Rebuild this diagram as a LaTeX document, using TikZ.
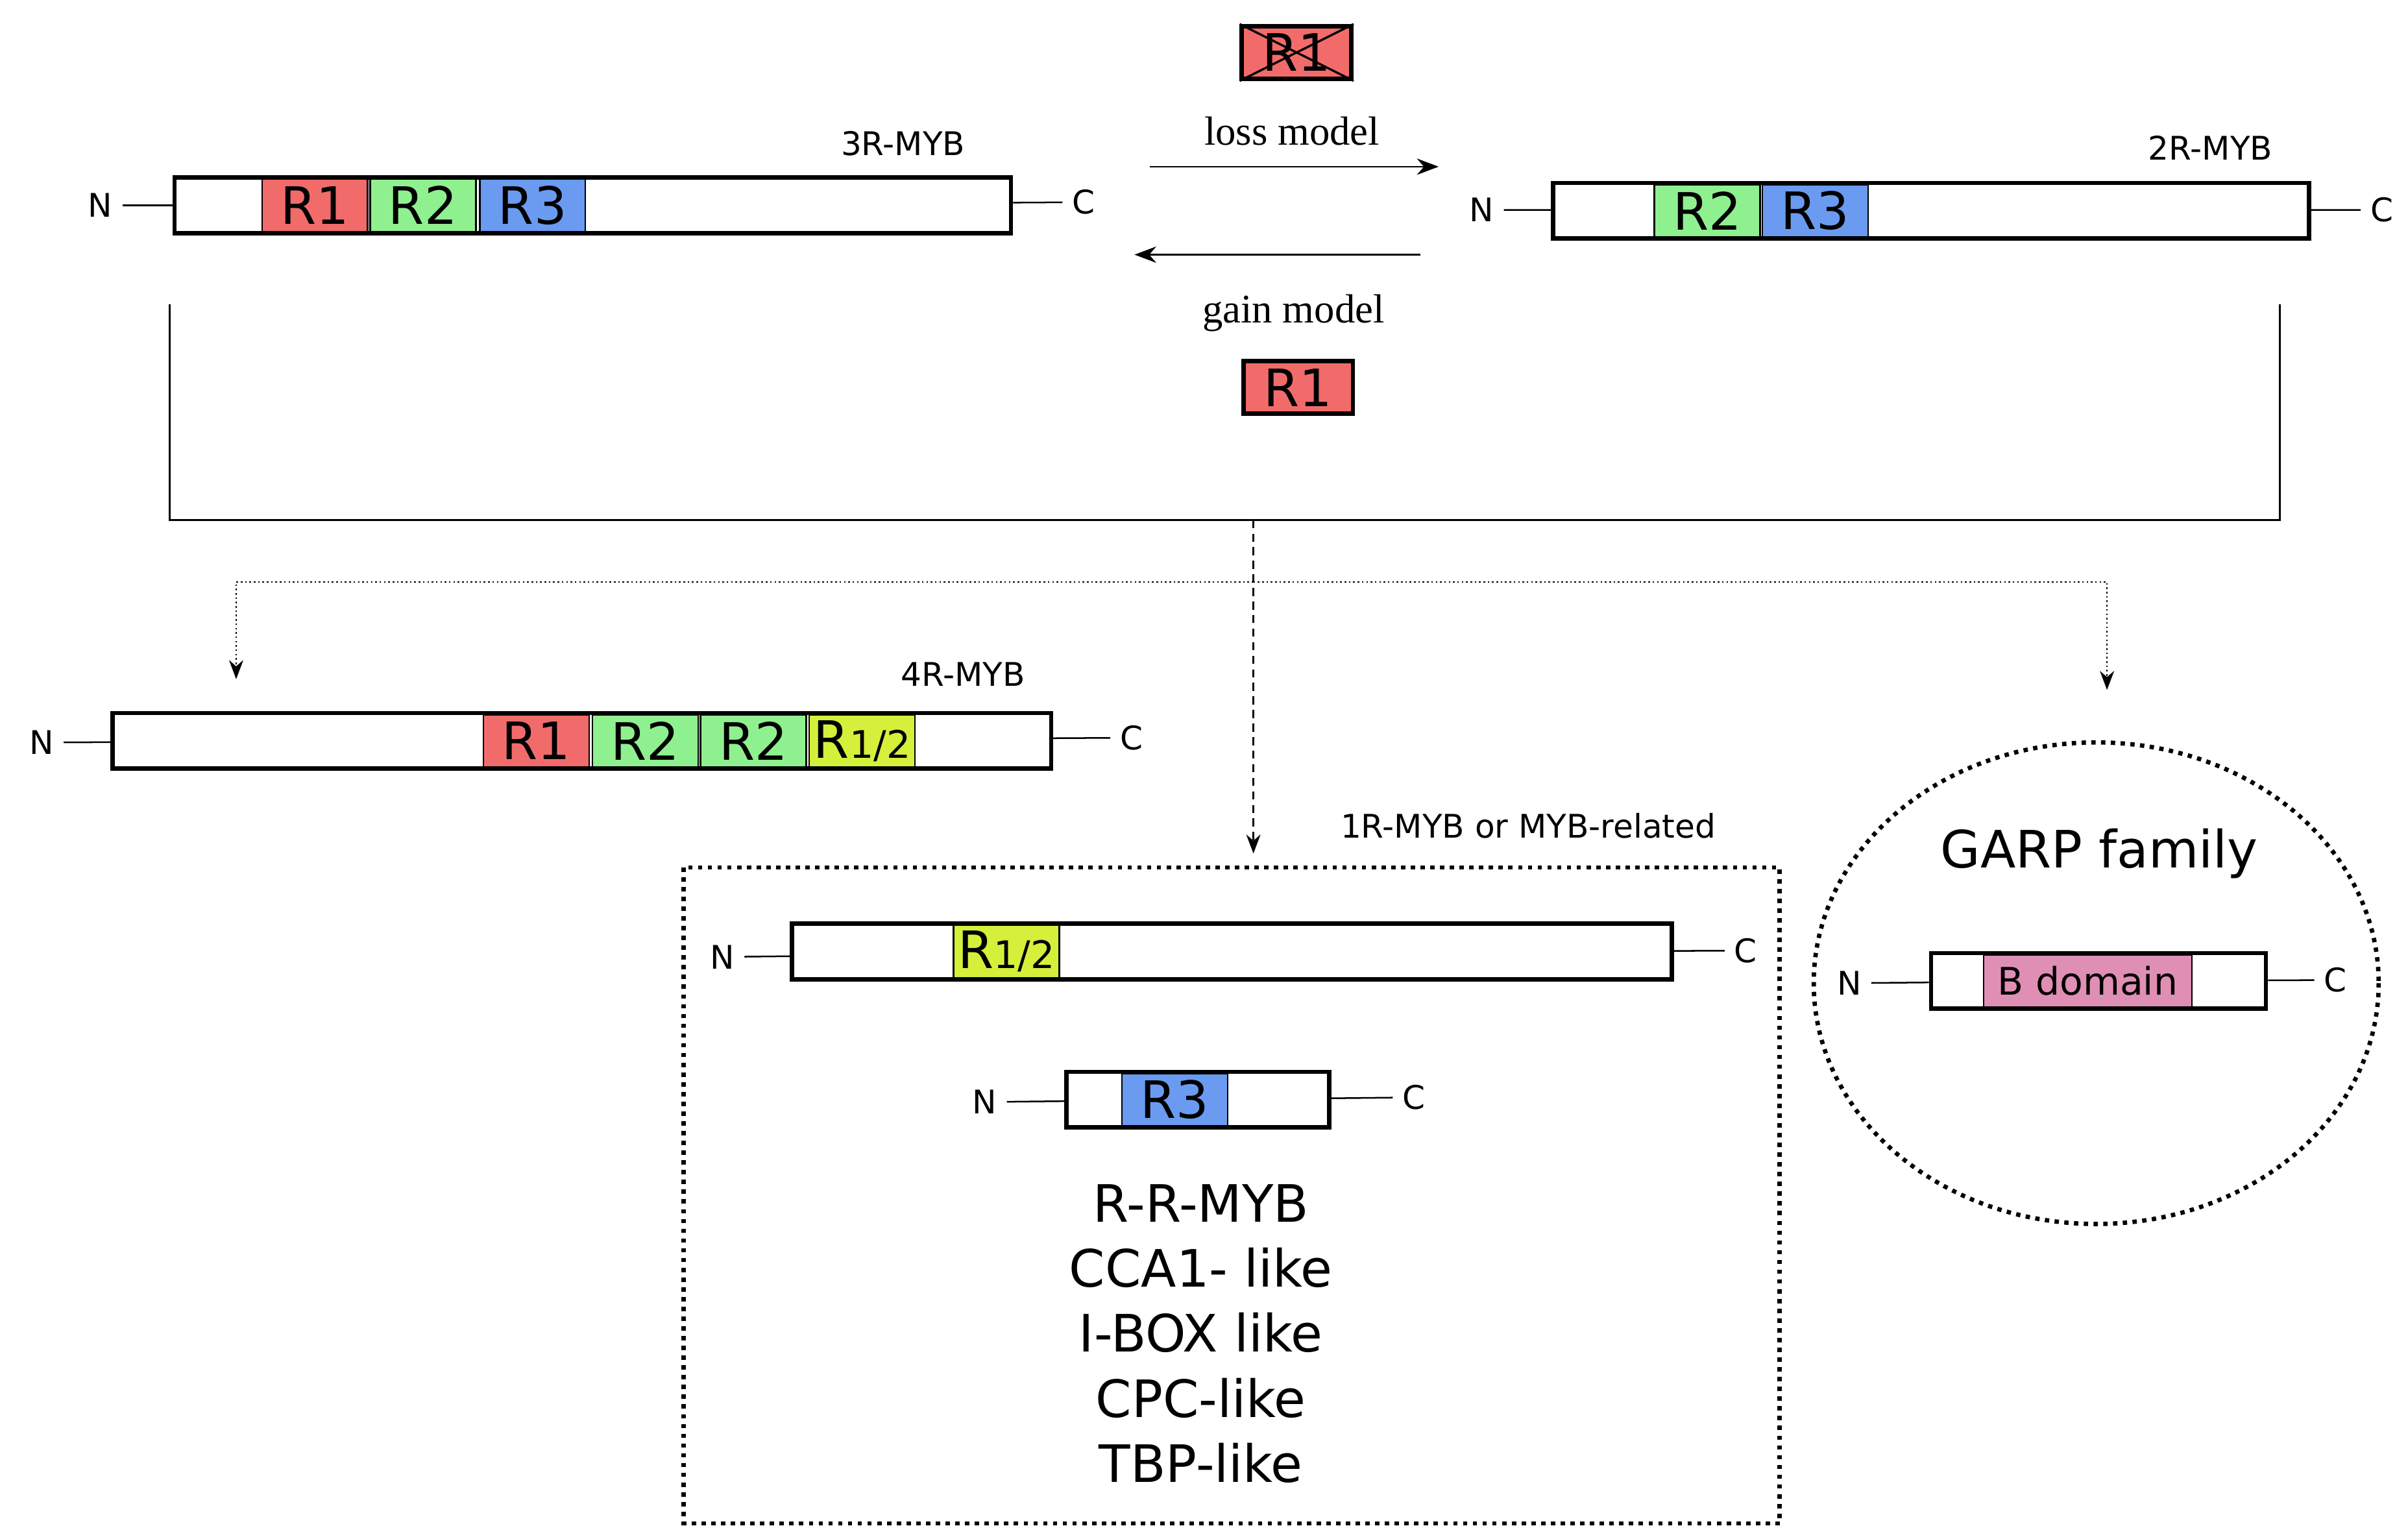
\documentclass[tikz,border=0pt]{standalone}
\usepackage{fontspec}
\setmainfont{DejaVu Sans}
\newfontfamily\serifit{Liberation Serif}
\usetikzlibrary{arrows.meta}
\definecolor{redR}{HTML}{F26B6B}
\definecolor{greenR}{HTML}{8FF08F}
\definecolor{blueR}{HTML}{6A9BF0}
\definecolor{yellowR}{HTML}{D4F03A}
\definecolor{pinkR}{HTML}{E08FB4}
\tikzset{
	bar/.style={draw,line width=1.6pt,minimum height=0.72cm,inner sep=0pt},
	dom/.style={draw,line width=0.6pt,minimum height=0.68cm,minimum width=1.37cm,inner sep=0pt,font=\fontsize{19}{20}\selectfont},
	tag/.style={font=\fontsize{12}{14}\selectfont},
	big/.style={font=\fontsize{19}{24}\selectfont},
	model/.style={font=\serifit\fontsize{15}{17}\selectfont},
}
\begin{document}
\begin{tikzpicture}[x=0.02cm,y=-0.02cm,line width=0.6pt]
		\useasboundingbox (0,0) rectangle (1560,997);
		% 3R-MYB
		\node [bar,minimum width=10.84cm] (b3) at (384,133) {};
		\node [dom,fill=redR] (b3r1) at (204,133) {R1};
		\node [dom,fill=greenR] (b3r2) at (274,133) {R2};
		\node [dom,fill=blueR] (b3r3) at (345,133) {R3};
		\node [tag] (n3) at (65,133) {N};
		\node [tag] (c3) at (702,131) {C};
		\draw (n3) -- (b3);
		\draw (b3) -- (c3);
		\node [tag] (l3) at (585,93) {3R-MYB};
		% 2R-MYB
		\node [bar,minimum width=9.8cm] (b2) at (1251,136.5) {};
		\node [dom,fill=greenR] (b2r2) at (1106,136.5) {R2};
		\node [dom,fill=blueR] (b2r3) at (1176,136.5) {R3};
		\node [tag] (n2) at (960,136) {N};
		\node [tag] (c2) at (1543,136) {C};
		\draw (n2) -- (b2);
		\draw (b2) -- (c2);
		\node [tag] (l2) at (1432,96) {2R-MYB};
		% loss / gain
		\node [dom,fill=redR,line width=1.6pt,minimum width=1.42cm] (lossr1) at (840,34) {R1};
		\draw [line width=0.8pt] (lossr1.south west) -- (lossr1.north east);
		\draw [line width=0.8pt] (lossr1.north west) -- (lossr1.south east);
		\node [model] (loss) at (837,85) {loss model};
		\coordinate (la) at (745,108);
		\coordinate (lb) at (932,108);
		\draw [-{Stealth[length=8pt]}] (la) -- (lb);
		\coordinate (ga) at (920,165);
		\coordinate (gb) at (735,165);
		\draw [-{Stealth[length=8pt]}] (ga) -- (gb);
		\node [model] (gain) at (838,203) {gain model};
		\node [dom,fill=redR,line width=1.6pt,minimum width=1.42cm] (gainr1) at (841,251) {R1};
		% bracket
		\coordinate (k1) at (110,197);
		\coordinate (k2) at (1477,197);
		\coordinate (km) at (812,337);
		\draw (k1) -- (110,337) -- (1477,337) -- (k2);
		\coordinate (d1) at (812,553);
		\draw [densely dashed,-{Stealth[length=7pt]}] (km) -- (d1);
		\coordinate (t1) at (153,440);
		\coordinate (t2) at (1365,447);
		\draw [densely dotted,-{Stealth[length=7pt]}] (812,377) -| (t1);
		\draw [densely dotted,-{Stealth[length=7pt]}] (812,377) -| (t2);
		% 4R-MYB
		\node [bar,minimum width=12.16cm] (b4) at (377,480) {};
		\node [dom,fill=redR] (b4r1) at (347.5,480) {R1};
		\node [dom,fill=greenR] (b4r2) at (418,480) {R2};
		\node [dom,fill=greenR] (b4r2b) at (488,480) {R2};
		\node [dom,fill=yellowR] (b4r12) at (558.5,480) {R{\fontsize{14}{14}\selectfont1/2}};
		\node [tag] (n4) at (27,481) {N};
		\node [tag] (c4) at (733,478) {C};
		\draw (n4) -- (b4);
		\draw (b4) -- (c4);
		\node [tag] (l4) at (624,437) {4R-MYB};
		% 1R-MYB
		\draw [line width=1.6pt,dotted] (443,562) rectangle (1153,987);
		\node [tag] (l1) at (990,535) {1R-MYB or MYB-related};
		\node [bar,minimum width=11.4cm] (b1) at (798,616.5) {};
		\node [dom,fill=yellowR] (b1r12) at (652,616.5) {R{\fontsize{14}{14}\selectfont1/2}};
		\node [tag] (n1) at (468,620) {N};
		\node [tag] (c1) at (1131,616) {C};
		\draw (n1) -- (b1);
		\draw (b1) -- (c1);
		\node [bar,minimum width=3.4cm] (b0) at (776,712.5) {};
		\node [dom,fill=blueR] (b0r3) at (761,712.5) {R3};
		\node [tag] (n0) at (638,714) {N};
		\node [tag] (c0) at (916,711) {C};
		\draw (n0) -- (b0);
		\draw (b0) -- (c0);
		\node [big,align=center] (fam) at (778,864) {R-R-MYB\\CCA1- like\\I-BOX like\\CPC-like\\TBP-like};
		% GARP
		\draw [line width=1.6pt,dotted] (1358,637) ellipse [x radius=183,y radius=156];
		\node [big] (garp) at (1360,553) {GARP family};
		\node [bar,minimum width=4.34cm] (bg) at (1359.5,635.5) {};
		\node [dom,fill=pinkR,minimum width=2.7cm,font=\fontsize{14}{16}\selectfont] (bgb) at (1352.5,635.5) {B domain};
		\node [tag] (ng) at (1198,637) {N};
		\node [tag] (cg) at (1513,635) {C};
		\draw (ng) -- (bg);
		\draw (bg) -- (cg);
\end{tikzpicture}
\end{document}
